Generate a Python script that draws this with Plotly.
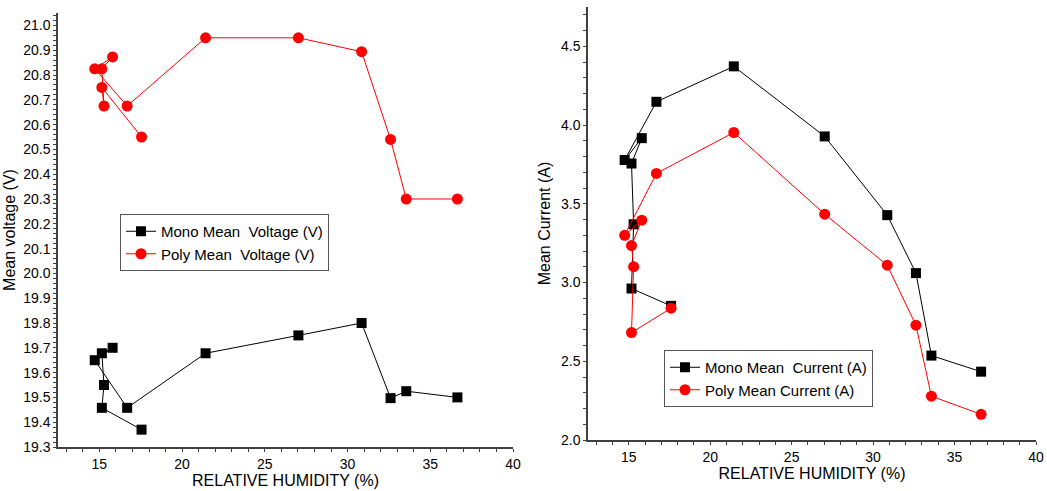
import plotly.graph_objects as go

# ---- data ----
humidity = [17.55, 15.15, 15.28, 15.15, 15.8, 14.72, 16.68, 21.42, 27.03, 30.85, 32.6, 33.55, 36.64]
mono_voltage = [19.37, 19.458, 19.55, 19.678, 19.70, 19.65, 19.458, 19.678, 19.75, 19.80, 19.497, 19.525, 19.50]
poly_voltage = [20.55, 20.75, 20.675, 20.825, 20.873, 20.825, 20.675, 20.95, 20.95, 20.894, 20.54, 20.30, 20.30]
humidity_cur = [17.6, 15.17, 15.3, 15.17, 15.8, 14.75, 16.7, 21.45, 27.03, 30.87, 32.63, 33.58, 36.63]
mono_current = [2.852, 2.962, 3.37, 3.756, 3.917, 3.778, 4.148, 4.373, 3.928, 3.428, 3.06, 2.536, 2.434]
poly_current = [2.837, 2.682, 3.101, 3.235, 3.396, 3.30, 3.693, 3.953, 3.434, 3.110, 2.729, 2.278, 2.163]

FONT = "Liberation Sans, Arial, sans-serif"
W, H = 1047, 491

fig = go.Figure()

def add(x, y, name, color, symbol, xa, ya, legend):
    fig.add_trace(go.Scatter(
        x=x, y=y, name=name, mode="lines+markers",
        line=dict(color=color, width=1),
        marker=dict(color=color, symbol=symbol, size=10 if symbol == "square" else 11),
        xaxis=xa, yaxis=ya, legend=legend))

add(humidity, mono_voltage, "Mono Mean\u00a0 Voltage (V)", "black", "square", "x", "y", "legend")
add(humidity, poly_voltage, "Poly Mean\u00a0 Voltage (V)", "#ff0000", "circle", "x", "y", "legend")
add(humidity_cur, mono_current, "Mono Mean\u00a0 Current (A)", "black", "square", "x2", "y2", "legend2")
add(humidity_cur, poly_current, "Poly Mean Current (A)", "#ff0000", "circle", "x2", "y2", "legend2")

axis_common = dict(showline=True, linecolor="#404040", linewidth=1.5, showgrid=False,
                   zeroline=False, ticks="outside", ticklen=3, tickcolor="#404040",
                   automargin=False,
                   tickfont=dict(family=FONT, size=14, color="black"),
                   minor=dict(ticks="outside", ticklen=3, tickcolor="#404040"))

xdom1 = [58 / W, 513 / W]
ydom1 = [(H - 447) / H, (H - 13) / H]
xdom2 = [588 / W, 1036 / W]
ydom2 = [(H - 440) / H, (H - 7) / H]

title_font = dict(family=FONT, size=16, color="black")

fig.update_layout(
    width=W, height=H, margin=dict(l=0, r=0, t=0, b=0, autoexpand=False),
    paper_bgcolor="white", plot_bgcolor="white",
    font=dict(family=FONT, color="black"),
    xaxis=dict(domain=xdom1, anchor="y", range=[12.5, 40], dtick=5, tick0=0,
               title=dict(text="RELATIVE HUMIDITY (%)", font=title_font, standoff=4),
               **axis_common),
    yaxis=dict(domain=ydom1, anchor="x", range=[19.3, 21.05], dtick=0.1, tick0=0,
               tickformat=".1f",
               title=dict(text="Mean voltage (V)", font=title_font, standoff=4),
               **axis_common),
    xaxis2=dict(domain=xdom2, anchor="y2", range=[12.5, 40], dtick=5, tick0=0,
                title=dict(text="RELATIVE HUMIDITY (%)", font=title_font, standoff=2),
                **axis_common),
    yaxis2=dict(domain=ydom2, anchor="x2", range=[2.0, 4.75], dtick=0.5, tick0=0,
                tickformat=".1f",
                title=dict(text="Mean Current (A)", font=title_font, standoff=6),
                **axis_common),
    legend=dict(x=120 / W, y=1 - 214 / H, xanchor="left", yanchor="top",
                bgcolor="white", bordercolor="#555555", borderwidth=1,
                font=dict(family=FONT, size=15, color="black"),
                tracegroupgap=0, itemwidth=30),
    legend2=dict(x=664 / W, y=1 - 350 / H, xanchor="left", yanchor="top",
                 bgcolor="white", bordercolor="#555555", borderwidth=1,
                 font=dict(family=FONT, size=15, color="black"),
                 tracegroupgap=0, itemwidth=30),
    showlegend=True,
)

fig.write_html("out.html", config={"displayModeBar": False},
               post_script="document.body.style.margin='0';document.body.style.overflow='hidden';")
